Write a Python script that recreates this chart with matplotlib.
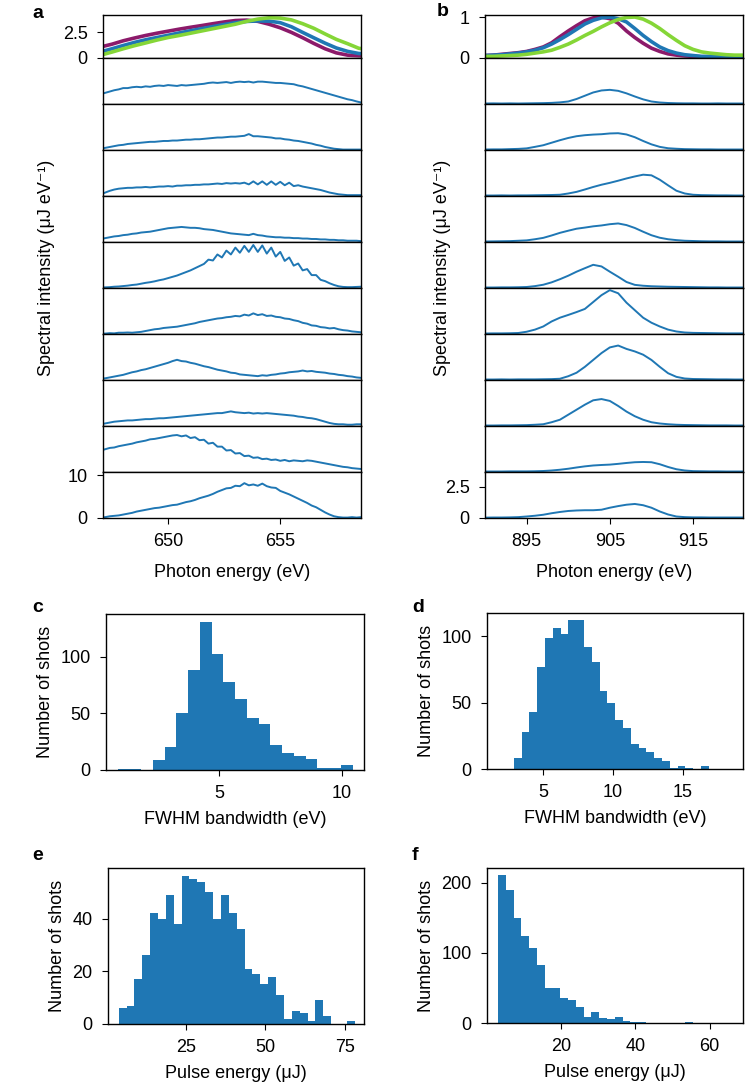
import numpy as np
import matplotlib
matplotlib.use('Agg')
import matplotlib.pyplot as plt

plt.rcParams['font.family'] = ['Liberation Sans', 'DejaVu Sans']
plt.rcParams['font.size'] = 13

# ---- panel a: 650 eV spectra (sampled every 0.2 eV) ----
ea = np.round(np.arange(647.0, 658.81, 0.2), 1)
ea_mean = np.round(np.arange(647.0, 659.01, 0.5), 1)

a_mean_purple = [1.08, 1.35, 1.68, 1.95, 2.2, 2.42, 2.62, 2.82, 3.0, 3.17, 3.35, 3.52, 3.66,
                 3.7, 3.58, 3.3, 2.95, 2.5, 1.98, 1.42, 0.9, 0.5, 0.28, 0.22, 0.2]
a_mean_blue = [0.6, 0.9, 1.22, 1.52, 1.78, 2.0, 2.22, 2.45, 2.66, 2.87, 3.07, 3.27, 3.45,
               3.57, 3.62, 3.6, 3.45, 3.05, 2.5, 1.97, 1.45, 0.98, 0.65, 0.44, 0.4]
a_mean_green = [0.28, 0.58, 0.9, 1.2, 1.47, 1.75, 2.0, 2.2, 2.42, 2.64, 2.86, 3.08, 3.3,
                3.58, 3.8, 3.93, 3.9, 3.72, 3.35, 2.9, 2.35, 1.82, 1.4, 0.95, 0.8]

a_shot1 = [2.3, 2.6, 2.9, 3.2, 3.4, 3.7, 3.7, 3.9, 4.0, 3.9,
           4.1, 4.0, 4.2, 4.3, 4.2, 4.4, 4.3, 4.2, 4.4, 4.3,
           4.4, 4.5, 4.6, 4.7, 4.9, 5.0, 4.9, 5.0, 5.1, 4.9,
           5.1, 5.2, 5.1, 5.2, 5.0, 5.2, 5.2, 5.1, 5.0, 4.9,
           4.9, 4.8, 4.7, 4.6, 4.3, 4.1, 3.8, 3.5, 3.2, 2.9,
           2.6, 2.3, 2.0, 1.7, 1.4, 1.1, 0.9, 0.6, 0.35, 0.2]
a_shot2 = [0.3, 0.5, 0.7, 0.9, 1.1, 1.2, 1.4, 1.5, 1.6, 1.7,
           1.8, 1.9, 1.9, 2.0, 2.1, 2.1, 2.2, 2.2, 2.3, 2.4,
           2.4, 2.5, 2.5, 2.6, 2.7, 2.8, 2.9, 2.9, 3.0, 3.1,
           3.1, 3.2, 3.3, 3.7, 3.2, 3.2, 3.1, 3.0, 2.9, 2.7,
           2.7, 2.5, 2.4, 2.2, 2.1, 1.9, 1.7, 1.5, 1.2, 1.0,
           0.7, 0.5, 0.3, 0.2, 0.1, 0.1, 0.1, 0.1, 0.1, 0.1]
a_shot3 = [0.4, 0.8, 1.2, 1.5, 1.7, 1.8, 1.9, 1.9, 2.0, 2.0,
           2.1, 2.0, 2.1, 2.2, 2.2, 2.3, 2.2, 2.4, 2.4, 2.5,
           2.5, 2.6, 2.6, 2.7, 2.7, 2.8, 2.9, 2.8, 3.0, 2.9,
           3.0, 2.9, 3.1, 2.7, 3.4, 2.7, 3.4, 2.6, 3.4, 2.6,
           3.3, 2.5, 3.1, 2.3, 2.5, 2.2, 2.0, 1.8, 1.6, 1.4,
           1.1, 0.8, 0.6, 0.4, 0.3, 0.2, 0.2, 0.2, 0.2, 0.2]
a_shot4 = [0.7, 0.9, 1.1, 1.3, 1.4, 1.6, 1.7, 1.9, 2.0, 2.2,
           2.3, 2.4, 2.6, 2.8, 3.0, 3.2, 3.3, 3.4, 3.5, 3.4,
           3.3, 3.3, 3.2, 3.0, 2.9, 2.8, 2.6, 2.4, 2.2, 2.0,
           1.9, 1.8, 1.7, 1.6, 1.9, 1.6, 1.5, 1.3, 1.2, 1.1,
           1.1, 1.0, 1.0, 0.9, 0.9, 0.8, 0.8, 0.7, 0.7, 0.6,
           0.6, 0.5, 0.5, 0.4, 0.4, 0.3, 0.3, 0.3, 0.2, 0.2]
a_shot5 = [0.1, 0.15, 0.2, 0.3, 0.35, 0.45, 0.55, 0.7, 0.8, 1.0,
           1.2, 1.35, 1.55, 1.8, 2.0, 2.3, 2.6, 2.9, 3.3, 3.7,
           4.1, 4.6, 5.1, 5.6, 6.6, 6.4, 7.8, 7.1, 8.7, 7.8,
           9.4, 8.2, 9.8, 8.4, 10.0, 8.4, 9.9, 8.0, 9.4, 7.3,
           8.4, 6.3, 7.1, 5.2, 5.7, 4.1, 4.4, 3.0, 3.0, 1.9,
           1.6, 1.1, 0.7, 0.4, 0.25, 0.2, 0.2, 0.25, 0.3, 0.3]
a_shot6 = [0.1, 0.1, 0.2, 0.15, 0.3, 0.3, 0.35, 0.3, 0.4, 0.5,
           0.7, 0.9, 1.1, 1.2, 1.4, 1.5, 1.6, 1.7, 1.9, 2.1,
           2.3, 2.5, 2.8, 3.0, 3.2, 3.4, 3.6, 3.7, 3.9, 4.0,
           4.2, 4.1, 4.5, 4.3, 4.8, 4.4, 4.6, 4.2, 4.3, 4.0,
           3.9, 3.6, 3.5, 3.2, 3.0, 2.6, 2.4, 2.0, 1.9, 1.6,
           1.5, 1.3, 1.4, 1.1, 0.9, 0.8, 0.6, 0.5, 0.4, 0.3]
a_shot7 = [0.3, 0.4, 0.6, 0.8, 1.0, 1.2, 1.5, 1.8, 2.0, 2.3,
           2.5, 2.8, 3.1, 3.4, 3.7, 4.0, 4.4, 4.7, 4.4, 4.3,
           4.0, 3.8, 3.5, 3.2, 3.0, 2.7, 2.4, 2.2, 2.0, 1.7,
           1.6, 1.3, 1.2, 1.1, 1.0, 0.9, 1.1, 1.0, 1.2, 1.3,
           1.5, 1.6, 1.8, 1.9, 2.0, 2.2, 2.0, 2.1, 1.9, 1.8,
           1.7, 1.5, 1.4, 1.2, 1.1, 0.9, 0.8, 0.6, 0.5, 0.4]
a_shot8 = [0.4, 0.6, 0.8, 1.0, 1.1, 1.2, 1.3, 1.3, 1.4, 1.5,
           1.6, 1.6, 1.7, 1.8, 1.8, 1.9, 2.0, 2.1, 2.2, 2.3,
           2.4, 2.5, 2.6, 2.7, 2.8, 2.9, 3.0, 3.0, 3.2, 3.4,
           3.2, 3.1, 3.0, 3.1, 2.9, 3.0, 2.9, 3.0, 2.9, 2.8,
           2.7, 2.6, 2.5, 2.4, 2.2, 2.1, 1.9, 1.8, 1.6, 1.3,
           1.0, 0.7, 0.5, 0.4, 0.4, 0.3, 0.3, 0.4, 0.4, 0.4]
a_shot9 = [5.0, 5.3, 5.6, 5.7, 6.0, 6.2, 6.4, 6.6, 6.9, 7.1,
           7.3, 7.6, 7.7, 7.9, 8.1, 8.3, 8.5, 8.6, 8.3, 8.5,
           7.9, 8.1, 7.4, 7.5, 6.6, 6.8, 5.9, 5.9, 5.0, 5.1,
           4.3, 4.4, 3.7, 3.8, 3.3, 3.4, 3.0, 3.1, 2.8, 2.9,
           2.6, 2.8, 2.5, 2.7, 2.6, 2.5, 2.7, 2.6, 2.4, 2.2,
           2.0, 1.8, 1.6, 1.4, 1.2, 1.1, 0.9, 0.8, 0.7, 0.7]
a_shot10 = [0.1, 0.2, 0.4, 0.5, 0.6, 0.8, 1.0, 1.2, 1.5, 1.7,
            1.9, 2.1, 2.3, 2.4, 2.6, 2.8, 3.0, 3.1, 3.4, 3.7,
            3.9, 4.2, 4.6, 4.9, 5.2, 5.6, 6.1, 6.5, 6.9, 7.0,
            7.5, 7.4, 8.1, 7.6, 7.8, 7.5, 8.0, 7.4, 7.1, 7.0,
            6.3, 5.9, 5.5, 5.0, 4.5, 4.0, 3.5, 2.9, 2.5, 1.9,
            1.3, 0.8, 0.4, 0.2, 0.1, 0.1, 0.2, 0.1, 0.2, 0.2]

# ---- panel b: 905 eV spectra (sampled every 1 eV) ----
eb = list(range(890, 922))

b_mean_purple = [0.06, 0.07, 0.09, 0.11, 0.13, 0.16, 0.21, 0.27, 0.37, 0.52, 0.66, 0.79, 0.91, 0.98, 1.0, 0.96,
                 0.85, 0.66, 0.5, 0.36, 0.24, 0.16, 0.1, 0.07, 0.05, 0.04, 0.03, 0.03, 0.02, 0.02, 0.02, 0.02]
b_mean_blue = [0.06, 0.07, 0.08, 0.1, 0.12, 0.15, 0.19, 0.25, 0.34, 0.45, 0.57, 0.7, 0.83, 0.92, 0.98, 1.0,
               0.96, 0.88, 0.72, 0.55, 0.4, 0.27, 0.18, 0.12, 0.08, 0.06, 0.04, 0.04, 0.03, 0.03, 0.02, 0.02]
b_mean_green = [0.04, 0.04, 0.05, 0.06, 0.07, 0.09, 0.12, 0.15, 0.19, 0.26, 0.34, 0.44, 0.55, 0.65, 0.76, 0.86,
                0.94, 0.99, 1.0, 0.95, 0.85, 0.72, 0.57, 0.43, 0.3, 0.21, 0.15, 0.12, 0.1, 0.08, 0.07, 0.07]

b_shot1 = [0.04, 0.05, 0.04, 0.05, 0.04, 0.05, 0.06, 0.07, 0.09, 0.13, 0.2, 0.4, 0.66, 0.92, 1.08, 1.13,
           1.05, 0.85, 0.6, 0.37, 0.2, 0.12, 0.08, 0.06, 0.05, 0.05, 0.04, 0.04, 0.05, 0.04, 0.04, 0.04]
b_shot2 = [0.04, 0.05, 0.05, 0.07, 0.09, 0.13, 0.25, 0.38, 0.58, 0.78, 0.96, 1.1, 1.18, 1.23, 1.26, 1.32,
           1.34, 1.24, 1.02, 0.72, 0.45, 0.25, 0.14, 0.1, 0.07, 0.06, 0.05, 0.05, 0.04, 0.04, 0.04, 0.04]
b_shot3 = [0.04, 0.04, 0.05, 0.04, 0.05, 0.05, 0.06, 0.07, 0.08, 0.1, 0.2, 0.33, 0.52, 0.72, 0.9, 1.05,
           1.22, 1.4, 1.56, 1.7, 1.65, 1.3, 0.85, 0.42, 0.2, 0.1, 0.07, 0.06, 0.05, 0.05, 0.04, 0.04]
b_shot4 = [0.04, 0.05, 0.06, 0.07, 0.1, 0.13, 0.22, 0.33, 0.52, 0.73, 0.9, 1.06, 1.15, 1.25, 1.32, 1.42,
           1.48, 1.35, 1.12, 0.82, 0.54, 0.34, 0.22, 0.15, 0.1, 0.08, 0.06, 0.05, 0.05, 0.04, 0.04, 0.04]
b_shot5 = [0.04, 0.04, 0.05, 0.05, 0.06, 0.08, 0.15, 0.26, 0.45, 0.7, 0.98, 1.3, 1.58, 1.85, 1.72, 1.3,
           0.9, 0.48, 0.25, 0.18, 0.14, 0.12, 0.1, 0.09, 0.08, 0.07, 0.06, 0.05, 0.05, 0.04, 0.04, 0.04]
b_shot6 = [0.04, 0.05, 0.05, 0.06, 0.08, 0.18, 0.35, 0.6, 1.0, 1.3, 1.52, 1.75, 2.0, 2.55, 3.1, 3.5,
           3.25, 2.5, 1.9, 1.3, 0.9, 0.6, 0.35, 0.2, 0.12, 0.09, 0.08, 0.07, 0.06, 0.05, 0.05, 0.05]
b_shot7 = [0.04, 0.04, 0.05, 0.04, 0.05, 0.05, 0.05, 0.06, 0.07, 0.1, 0.3, 0.58, 1.05, 1.6, 2.15, 2.6,
           2.75, 2.48, 2.28, 2.02, 1.6, 1.05, 0.54, 0.25, 0.12, 0.08, 0.07, 0.06, 0.05, 0.05, 0.04, 0.04]
b_shot8 = [0.04, 0.04, 0.05, 0.05, 0.06, 0.07, 0.1, 0.14, 0.3, 0.5, 0.9, 1.3, 1.7, 2.05, 2.15, 2.0,
           1.6, 1.15, 0.78, 0.5, 0.3, 0.2, 0.14, 0.1, 0.08, 0.07, 0.06, 0.05, 0.05, 0.05, 0.04, 0.04]
b_shot9 = [0.04, 0.04, 0.04, 0.05, 0.05, 0.05, 0.06, 0.08, 0.12, 0.18, 0.26, 0.36, 0.45, 0.52, 0.56, 0.59,
           0.65, 0.72, 0.78, 0.8, 0.78, 0.62, 0.4, 0.22, 0.12, 0.07, 0.06, 0.05, 0.05, 0.04, 0.04, 0.04]
b_shot10 = [0.03, 0.04, 0.04, 0.05, 0.07, 0.12, 0.18, 0.26, 0.38, 0.48, 0.56, 0.6, 0.62, 0.62, 0.66, 0.82,
            0.95, 1.06, 1.12, 1.02, 0.82, 0.52, 0.28, 0.12, 0.07, 0.05, 0.05, 0.04, 0.04, 0.04, 0.04, 0.04]

# ---- histograms ----
c_counts = [1, 1, 0, 9, 20, 50, 88, 131, 102, 78, 63, 46, 41, 22, 15, 12, 10, 2, 2, 4]
c_range = (0.85, 10.45)
d_counts = [8, 28, 43, 77, 99, 106, 102, 112, 112, 92, 81, 59, 50, 37, 31, 19, 16, 13, 8, 6,
            1, 2, 1, 0, 2]
d_range = (2.91, 16.86)
e_counts = [6, 7, 17, 26, 42, 40, 49, 38, 56, 55, 54, 50, 40, 49, 42, 36, 21, 19, 15, 18,
            11, 2, 5, 4, 1, 9, 3, 0, 0, 1]
e_range = (3.9, 78.1)
f_counts = [212, 190, 150, 124, 107, 83, 50, 50, 36, 33, 23, 9, 15, 7, 5, 9, 3, 1, 2, 0,
            0, 0, 0, 0, 2, 0, 0, 0, 0, 0]
f_range = (3.15, 65.85)

W, H = 752.0, 1087.0
BLUE = '#1f77b4'
PURPLE = '#8c1a6a'
GREEN = '#85d637'
FS = 13


def rect(x0, y0, x1, y1):
    return [x0 / W, 1 - y1 / H, (x1 - x0) / W, (y1 - y0) / H]


def style(ax):
    for s in ax.spines.values():
        s.set_linewidth(1.0)
    ax.tick_params(direction='out', length=4, width=0.8, labelsize=FS, pad=7)


fig = plt.figure(figsize=(7.52, 10.87), dpi=100)

a_shots = [a_shot1, a_shot2, a_shot3, a_shot4, a_shot5, a_shot6, a_shot7, a_shot8, a_shot9, a_shot10]
b_shots = [b_shot1, b_shot2, b_shot3, b_shot4, b_shot5, b_shot6, b_shot7, b_shot8, b_shot9, b_shot10]

panels = [
    dict(x0=103, x1=361, xlim=(647.1, 658.6), e=ea, em=ea_mean,
         means=(a_mean_purple, a_mean_blue, a_mean_green), shots=a_shots,
         top_ylim=(0, 4.2), top_ticks=[0, 2.5], top_labels=['0', '2.5'],
         ylim=(0, 10.7), bot_ticks=[0, 10], bot_labels=['0', '10'],
         xticks=[650, 655], letter='a', lx=32, ly=13, ylx=47),
    dict(x0=485, x1=743, xlim=(890, 921), e=eb, em=eb,
         means=(b_mean_purple, b_mean_blue, b_mean_green), shots=b_shots,
         top_ylim=(0, 1.05), top_ticks=[0, 1], top_labels=['0', '1'],
         ylim=(0, 3.67), bot_ticks=[0, 2.5], bot_labels=['0', '2.5'],
         xticks=[895, 905, 915], letter='b', lx=437, ly=12, ylx=443),
]

for p in panels:
    ax = fig.add_axes(rect(p['x0'], 15, p['x1'], 58))
    for vals, col in zip(p['means'], (PURPLE, BLUE, GREEN)):
        ax.plot(p['em'], vals, color=col, lw=2.6)
    ax.set_xlim(p['xlim'])
    ax.set_ylim(p['top_ylim'])
    ax.set_yticks(p['top_ticks'])
    ax.set_yticklabels(p['top_labels'])
    ax.set_xticks([])
    style(ax)
    for i, vals in enumerate(p['shots']):
        top = 58 + 46 * i
        ax = fig.add_axes(rect(p['x0'], top, p['x1'], top + 46))
        ax.plot(p['e'], vals, color=BLUE, lw=1.4)
        ax.set_xlim(p['xlim'])
        ax.set_ylim(p['ylim'])
        style(ax)
        if i == len(p['shots']) - 1:
            ax.set_yticks(p['bot_ticks'])
            ax.set_yticklabels(p['bot_labels'])
            ax.set_xticks(p['xticks'])
            ax.set_xlabel('Photon energy (eV)', fontsize=FS, labelpad=10)
        else:
            ax.set_xticks([])
            ax.set_yticks([])
    fig.text(p['lx'] / W, 1 - p['ly'] / H, p['letter'], fontsize=14, fontweight='bold',
             ha='left', va='center')
    fig.text(p['ylx'] / W, 1 - 268 / H, 'Spectral intensity (μJ eV⁻¹)', fontsize=FS,
             rotation=90, ha='center', va='center')

hists = [
    dict(r=(106, 614, 364, 770), counts=c_counts, rng=c_range, xlim=(0.38, 10.91), ylim=(0, 137.7),
         xticks=[5, 10], yticks=[0, 50, 100], xlabel='FWHM bandwidth (eV)', letter='c', lx=32, ly=607),
    dict(r=(487, 613, 743, 769), counts=d_counts, rng=d_range, xlim=(1.0, 19.3), ylim=(0, 117.6),
         xticks=[5, 10, 15], yticks=[0, 50, 100], xlabel='FWHM bandwidth (eV)', letter='d', lx=412, ly=607),
    dict(r=(108, 868, 364, 1024), counts=e_counts, rng=e_range, xlim=(0.55, 81.0), ylim=(0, 59.2),
         xticks=[25, 50, 75], yticks=[0, 20, 40], xlabel='Pulse energy (μJ)', letter='e', lx=32, ly=855),
    dict(r=(487, 868, 743, 1023), counts=f_counts, rng=f_range, xlim=(0.19, 68.95), ylim=(0, 221.4),
         xticks=[20, 40, 60], yticks=[0, 100, 200], xlabel='Pulse energy (μJ)', letter='f', lx=412, ly=855),
]

for h in hists:
    ax = fig.add_axes(rect(*h['r']))
    edges = np.linspace(h['rng'][0], h['rng'][1], len(h['counts']) + 1)
    ax.bar(edges[:-1], h['counts'], width=np.diff(edges), align='edge', color=BLUE, linewidth=0)
    ax.set_xlim(h['xlim'])
    ax.set_ylim(h['ylim'])
    ax.set_xticks(h['xticks'])
    ax.set_yticks(h['yticks'])
    ax.set_xlabel(h['xlabel'], fontsize=FS, labelpad=6)
    ax.set_ylabel('Number of shots', fontsize=FS, labelpad=5)
    style(ax)
    fig.text(h['lx'] / W, 1 - h['ly'] / H, h['letter'], fontsize=14, fontweight='bold',
             ha='left', va='center')

fig.savefig('out.png', dpi=100)
